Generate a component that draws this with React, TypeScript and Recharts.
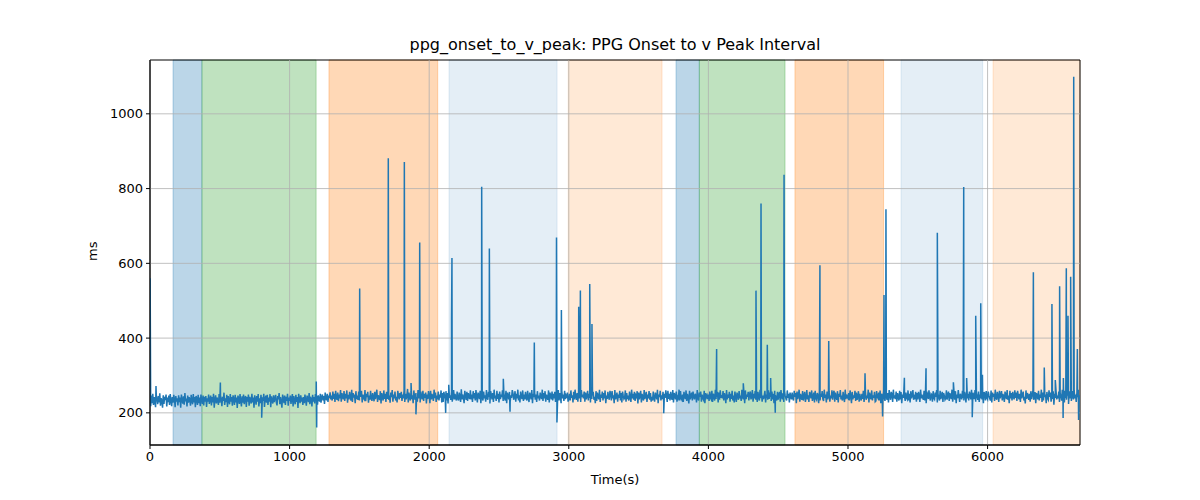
import {
  ComposedChart,
  Line,
  XAxis,
  YAxis,
  ReferenceArea,
  ReferenceLine,
} from "recharts";

// baseline sampled every 5 s, starting at t = 0 (one row = 100 s)
const SAMPLE_STEP = 5;
const BASELINE = [
  240, 218, 246, 226, 251, 221, 242, 230, 215, 248, 236, 223, 245, 228, 252, 219, 239, 232, 214, 247,
  224, 243, 234, 249, 217, 241, 229, 246, 221, 250, 232, 218, 242, 227, 248, 237, 215, 245, 230, 239,
  220, 247, 229, 241, 214, 249, 235, 225, 244, 222, 253, 231, 238, 217, 246, 227, 242, 236, 219, 248,
  232, 223, 250, 228, 242, 215, 245, 238, 221, 248, 226, 241, 218, 249, 234, 224, 246, 220, 243, 230,
  245, 216, 239, 230, 249, 224, 235, 246, 220, 242, 228, 251, 214, 237, 247, 225, 241, 233, 221, 250,
  227, 246, 236, 218, 243, 232, 254, 221, 239, 229, 248, 216, 245, 234, 223, 250, 230, 242, 219, 247,
  236, 221, 248, 228, 241, 213, 246, 238, 224, 250, 232, 217, 244, 227, 249, 223, 239, 245, 216, 242,
  230, 249, 219, 243, 234, 225, 251, 228, 241, 214, 247, 236, 222, 245, 230, 250, 217, 239, 226, 248,
  223, 242, 232, 251, 216, 238, 246, 227, 248, 221, 241, 230, 250, 215, 244, 234, 225, 247, 229, 239,
  248, 228, 220, 245, 236, 253, 223, 242, 230, 214, 249, 239, 226, 246, 221, 243, 232, 251, 219, 241,
  232, 246, 224, 239, 250, 217, 245, 234, 223, 248, 229, 242, 213, 251, 237, 226, 247, 230, 241, 221,
  242, 226, 249, 234, 219, 246, 239, 229, 253, 223, 243, 236, 217, 248, 230, 242, 225, 250, 233, 245,
  222, 247, 237, 230, 251, 227, 242, 249, 233, 245, 224, 254, 239, 234, 251, 229, 246, 240, 255, 236,
  246, 233, 257, 237, 251, 229, 259, 240, 235, 254, 231, 249, 239, 261, 230, 253, 242, 236, 258, 232,
  251, 239, 260, 227, 248, 236, 256, 243, 233, 262, 229, 253, 241, 249, 226, 258, 237, 246, 235, 257,
  233, 254, 243, 259, 228, 249, 239, 236, 261, 231, 251, 242, 256, 227, 246, 235, 259, 239, 232, 253,
  242, 231, 256, 237, 249, 262, 229, 247, 241, 234, 258, 225, 253, 243, 233, 260, 237, 251, 229, 256,
  237, 258, 235, 246, 227, 254, 242, 261, 230, 249, 239, 257, 233, 243, 228, 259, 247, 236, 253, 240,
  256, 232, 249, 239, 259, 229, 251, 236, 246, 264, 228, 254, 241, 233, 258, 237, 247, 226, 260, 243,
  235, 253, 242, 230, 261, 239, 249, 228, 257, 243, 236, 259, 232, 251, 240, 254, 225, 249, 237, 258,
  247, 226, 259, 236, 251, 242, 232, 262, 239, 254, 229, 246, 236, 257, 233, 249, 241, 260, 228, 253,
  229, 256, 246, 237, 258, 233, 253, 225, 260, 240, 247, 235, 256, 230, 243, 261, 236, 251, 239, 233,
  257, 239, 233, 254, 243, 229, 263, 236, 249, 241, 226, 259, 246, 235, 256, 232, 253, 242, 237, 260,
  236, 249, 229, 258, 239, 253, 233, 261, 242, 228, 254, 247, 237, 259, 226, 251, 243, 233, 257, 239,
  247, 230, 261, 240, 235, 256, 243, 225, 258, 249, 236, 253, 229, 262, 239, 246, 232, 259, 237, 251,
  228, 257, 237, 249, 242, 260, 232, 253, 239, 233, 259, 226, 254, 246, 236, 256, 229, 247, 240, 261,
  253, 235, 243, 258, 230, 251, 239, 262, 233, 247, 228, 257, 243, 237, 260, 232, 249, 236, 256, 241,
  233, 259, 240, 229, 254, 246, 236, 261, 226, 251, 242, 256, 235, 249, 229, 258, 239, 246, 233, 254,
  243, 237, 262, 232, 253, 239, 258, 230, 249, 240, 235, 260, 228, 254, 247, 236, 257, 233, 251, 239,
  256, 229, 247, 242, 236, 261, 233, 253, 243, 226, 258, 239, 249, 232, 259, 237, 246, 240, 254, 230,
  237, 251, 233, 260, 240, 247, 228, 256, 236, 262, 243, 235, 253, 230, 257, 239, 249, 229, 261, 242,
  249, 239, 257, 230, 254, 236, 246, 259, 233, 251, 240, 228, 261, 237, 247, 256, 235, 243, 226, 258,
  232, 254, 243, 236, 262, 229, 249, 240, 257, 233, 253, 239, 260, 226, 246, 237, 256, 242, 235, 259,
  251, 233, 258, 239, 247, 226, 261, 236, 243, 254, 230, 249, 240, 259, 233, 253, 228, 257, 246, 237,
  240, 260, 230, 253, 237, 246, 233, 257, 242, 229, 262, 239, 251, 235, 256, 232, 247, 243, 258, 225,
  254, 236, 247, 259, 228, 251, 240, 233, 261, 237, 246, 256, 229, 249, 239, 258, 235, 253, 230, 243,
  233, 257, 239, 230, 254, 246, 236, 262, 226, 249, 242, 259, 233, 247, 237, 256, 229, 251, 240, 260,
  246, 229, 259, 237, 251, 233, 256, 242, 235, 261, 228, 253, 247, 236, 257, 230, 243, 239, 262, 233,
  258, 239, 235, 249, 229, 256, 243, 237, 260, 232, 251, 240, 225, 259, 236, 247, 254, 233, 257, 242,
  236, 251, 246, 228, 261, 239, 233, 254, 243, 257, 230, 249, 239, 235, 259, 226, 253, 242, 247, 237,
  249, 232, 257, 240, 236, 259, 229, 251, 246, 233, 262, 237, 243, 256, 228, 254, 235, 260, 240, 247,
  239, 258, 233, 253, 243, 226, 261, 236, 249, 240, 256, 230, 251, 237, 259, 233, 246, 228, 257, 243,
  229, 254, 247, 235, 258, 239, 246, 232, 262, 242, 236, 253, 226, 260, 237, 249, 243, 256, 233, 251,
  257, 236, 243, 261, 230, 251, 239, 258, 235, 247, 229, 256, 242, 233, 262, 239, 253, 230, 246, 237,
  246, 259, 228, 249, 240, 235, 260, 237, 254, 243, 232, 257, 236, 251, 226, 259, 247, 239, 233, 256,
  235, 249, 256, 230, 261, 242, 236, 253, 229, 258, 246, 239, 233, 260, 240, 251, 228, 254, 243, 236,
  254, 239, 233, 259, 243, 253, 226, 257, 237, 247, 262, 230, 251, 240, 235, 258, 233, 246, 256, 229,
  242, 261, 236, 247, 229, 256, 249, 239, 260, 232, 243, 254, 228, 259, 239, 235, 253, 246, 226, 257,
  233, 251, 243, 258, 237, 232, 262, 240, 249, 228, 257, 236, 247, 256, 230, 246, 239, 260, 235, 253,
  259, 230, 254, 240, 235, 258, 228, 251, 243, 261, 236, 246, 233, 256, 240, 229, 262, 237, 249, 242,
  239, 253, 233, 260, 246, 226, 256, 236, 247, 240, 259, 232, 254, 235, 243, 258, 230, 251, 239, 233,
  251, 237, 259, 229, 249, 257, 235, 246, 239, 262, 228, 254, 242, 236, 260, 233, 247, 240, 256, 230,
  232, 258, 243, 239, 254, 233, 260, 226, 251, 246, 236, 259, 239, 232, 257, 243, 235, 253, 228, 261,
  246, 235, 256, 249, 229, 262, 239, 247, 237, 257, 230, 253, 243, 233, 259, 236, 256, 226, 249, 240,
  257, 243, 232, 254, 240, 236, 260, 233, 251, 228, 258, 239, 247, 261, 235, 243, 237, 256, 230, 253,
  236, 256, 246, 229, 262, 239, 249, 240, 235, 259, 233, 253, 226, 257, 247, 237, 260, 242, 233, 251,
  249, 230, 258, 239, 236, 254, 243, 261, 228, 251, 240, 233, 259, 237, 247, 256, 229, 253, 246, 235,
  239, 260, 235, 249, 257, 232, 253, 242, 237, 262, 230, 246, 254, 235, 258, 226, 249, 239, 261, 243,
  229, 251, 243, 236, 259, 240, 233, 256, 247, 228, 260, 239, 251, 233, 257, 246, 236, 262, 232, 254,
  247, 237, 261, 230, 253, 242, 235, 257, 229, 249, 239, 259, 236, 246, 226, 256, 251, 233, 258, 240,
  236, 257, 246, 239, 233, 260, 228, 254, 243, 251, 232, 262, 240, 235, 256, 246, 229, 259, 239, 249,
  258, 233, 251, 242, 229, 257, 247, 237, 261, 235, 246, 226, 259, 239, 253, 233, 256, 243, 236, 260,
  240, 254, 232, 259, 246, 236, 251, 229, 262, 239, 249, 257, 233, 243, 225, 260, 237, 253, 246, 235,
  251, 230, 258, 237, 247, 261, 235, 242, 256, 226, 253, 246, 236, 259, 233, 249, 240, 262, 229, 254,
  233, 259, 242, 249, 226, 256, 239, 235, 260, 243, 254, 230, 247, 237, 258, 222, 251, 240, 261, 236,
  246, 239, 257, 229, 253, 243, 233, 262, 237, 249, 228, 259, 240, 235, 256, 246, 224, 258, 239, 251,
  232, 258, 243, 236, 260, 239, 249, 229, 254, 242, 262, 235, 247,
];

// isolated spikes / dips: [time (s), value (ms)]
const SPIKES: [number, number][] = [
  [1, 560], [43, 272], [504, 281], [800, 187], [1191, 284], [1194, 161],
  [1502, 533], [1707, 881], [1822, 871], [1870, 280], [1905, 196], [1932, 656],
  [2118, 200], [2140, 275], [2160, 453], [2163, 614], [2376, 805], [2431, 640],
  [2531, 291], [2579, 203], [2753, 388], [2912, 669], [2915, 174], [2947, 475],
  [3071, 484], [3083, 527], [3150, 545], [3166, 438], [3680, 199], [4059, 371],
  [4250, 279], [4341, 527], [4377, 760], [4422, 382], [4446, 293], [4479, 200],
  [4542, 837], [4799, 595], [4862, 392], [5122, 306], [5248, 190], [5258, 515],
  [5272, 745], [5404, 294], [5559, 319], [5640, 682], [5755, 282], [5829, 804],
  [5850, 293], [5890, 188], [5915, 460], [5951, 493], [5963, 302], [6328, 576],
  [6406, 321], [6461, 491], [6485, 288], [6516, 539], [6541, 186], [6543, 293],
  [6564, 587], [6576, 460], [6595, 564], [6617, 1099], [6643, 371], [6652, 181],
];

// shaded phases: [start, end, colour, opacity]
const BANDS: [number, number, string, number][] = [
  [165, 372, "#1f77b4", 0.3],
  [372, 1190, "#2ca02c", 0.3],
  [1282, 2061, "#ff7f0e", 0.3],
  [2142, 2916, "#1f77b4", 0.12],
  [2996, 3668, "#ff7f0e", 0.17],
  [3768, 3935, "#1f77b4", 0.3],
  [3935, 4549, "#2ca02c", 0.3],
  [4620, 5255, "#ff7f0e", 0.3],
  [5380, 5965, "#1f77b4", 0.12],
  [6039, 6662, "#ff7f0e", 0.17],
];

const X_TICKS = [0, 1000, 2000, 3000, 4000, 5000, 6000];
const Y_TICKS = [200, 400, 600, 800, 1000];
const X_MAX = 6662;
const Y_MIN = 114;
const Y_MAX = 1144;

const series = [
  ...BASELINE.map((v, i) => ({ t: i * SAMPLE_STEP, v })),
  ...SPIKES.map(([t, v]) => ({ t, v })),
].sort((a, b) => a.t - b.t);

const tickStyle = { fill: "#000", fontSize: 13 };

export default function App() {
  return (
    <div
      style={{
        position: "absolute",
        left: 0,
        top: 0,
        width: 1200,
        height: 500,
        background: "#fff",
        fontFamily: "'DejaVu Sans', sans-serif",
      }}
    >
      <div
        style={{
          position: "absolute",
          left: 0,
          width: 1230,
          top: 36,
          textAlign: "center",
          fontSize: 16,
          lineHeight: "18px",
        }}
      >
        ppg_onset_to_v_peak: PPG Onset to v Peak Interval
      </div>
      <div
        style={{
          position: "absolute",
          left: 0,
          width: 1230,
          top: 472,
          textAlign: "center",
          fontSize: 13,
          lineHeight: "16px",
        }}
      >
        Time(s)
      </div>
      <div
        style={{
          position: "absolute",
          left: 85,
          top: 245,
          width: 16,
          height: 16,
          fontSize: 13,
          lineHeight: "16px",
          transform: "rotate(-90deg)",
          textAlign: "center",
        }}
      >
        ms
      </div>
      <ComposedChart
        width={1200}
        height={500}
        data={series}
        margin={{ top: 60, right: 120, bottom: 15, left: 90 }}
      >
        {BANDS.map(([x1, x2, color, op], i) => (
          <ReferenceArea
            key={`band-${i}`}
            x1={x1}
            x2={x2}
            y1={Y_MIN}
            y2={Y_MAX}
            fill={color}
            fillOpacity={op}
            stroke={color}
            strokeOpacity={op}
          />
        ))}
        {X_TICKS.map((t) => (
          <ReferenceLine key={`gx-${t}`} x={t} stroke="#b0b0b0" strokeWidth={0.8} />
        ))}
        {Y_TICKS.map((t) => (
          <ReferenceLine key={`gy-${t}`} y={t} stroke="#b0b0b0" strokeWidth={0.8} />
        ))}
        <XAxis
          dataKey="t"
          type="number"
          domain={[0, X_MAX]}
          ticks={X_TICKS}
          allowDataOverflow
          height={40}
          tick={tickStyle}
          tickSize={4}
          tickMargin={3}
          stroke="#000"
        />
        <YAxis
          type="number"
          domain={[Y_MIN, Y_MAX]}
          ticks={Y_TICKS}
          allowDataOverflow
          width={60}
          tick={tickStyle}
          tickSize={4}
          tickMargin={3}
          stroke="#000"
        />
        <Line
          dataKey="v"
          stroke="#1f77b4"
          strokeWidth={1.5}
          dot={false}
          type="linear"
          isAnimationActive={false}
        />
        <ReferenceArea
          x1={0}
          x2={X_MAX}
          y1={Y_MIN}
          y2={Y_MAX}
          fill="none"
          stroke="#000"
          strokeWidth={1}
        />
      </ComposedChart>
    </div>
  );
}
